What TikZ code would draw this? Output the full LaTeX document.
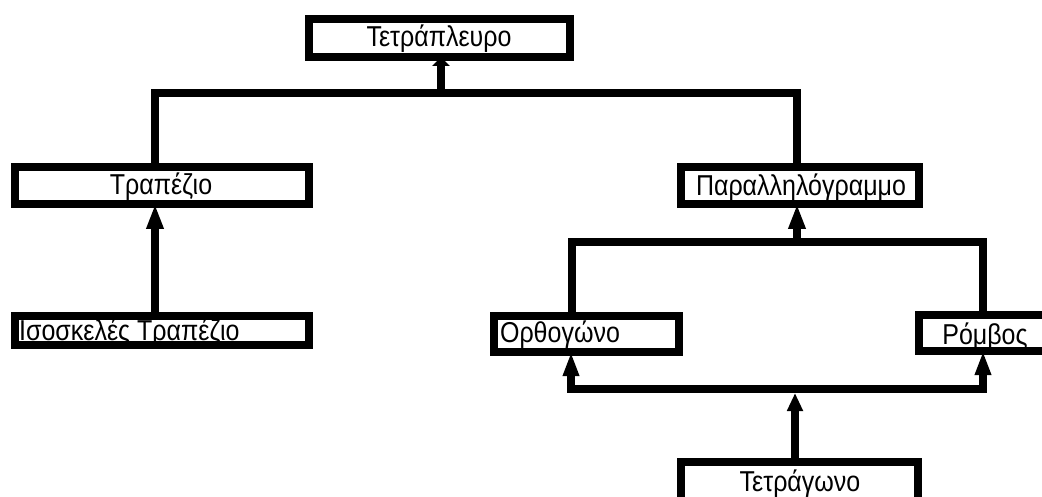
\documentclass[tikz,border=0pt]{standalone}
\usepackage{fontspec}
\setmainfont{Liberation Sans}
\usetikzlibrary{arrows.meta}
% labels are set in a slightly tall, narrow cut of the face
\newcommand{\tallword}[1]{\scalebox{1}[1.15]{#1}}
\begin{document}
\begin{tikzpicture}[x=1pt,y=-1pt,
  box/.style={draw=black,line width=8pt,rectangle,outer sep=0pt,inner sep=0pt},
  lbl/.style={inner sep=0pt,font=\fontsize{25}{27}\selectfont},
  wire/.style={line width=8pt,line join=miter,line cap=rect},
  bigup/.style={line width=8pt,-{Triangle[length=25pt,width=16pt]}},
  smallup/.style={line width=8pt,-{Triangle[length=18pt,width=15pt]}},
  bothup/.style={line width=8pt,line join=miter,{Triangle[length=24pt,width=15pt]}-{Triangle[length=24pt,width=15pt]}},
  topup/.style={line width=8pt,-{Triangle[length=9pt,width=17pt]}}
]
\useasboundingbox (0,0) rectangle (1042,497);

% labels
\node[lbl,anchor=base] (tquad) at (439,47) {\tallword{Τετράπλευρο}};
\node[lbl,anchor=base] (ttrap) at (161,195) {\tallword{Τραπέζιο}};
\node[lbl,anchor=base west] (tiso) at (19,340) {\tallword{Ισοσκελές Τραπέζιο}};
\node[lbl,anchor=base] (tpara) at (801,196) {\tallword{Παραλληλόγραμμο}};
\node[lbl,anchor=base] (trect) at (560,342) {\tallword{Ορθογώνο}};
\node[lbl,anchor=base] (trhom) at (985,344) {\tallword{Ρόμβος}};
\node[lbl,anchor=base] (tsq) at (800,491) {\tallword{Τετράγωνο}};

% boxes
\node[box,minimum width=261pt,minimum height=38pt] (quad) at (439.5,38) {};
\node[box,minimum width=294pt,minimum height=37pt] (trap) at (162,185.5) {};
\node[box,minimum width=294pt,minimum height=29pt] (iso)  at (162,330.5) {};
\node[box,minimum width=238pt,minimum height=37pt] (para) at (800,185.5) {};
\node[box,minimum width=185pt,minimum height=36pt] (rect) at (586.5,334) {};
\node[box,minimum width=133pt,minimum height=36pt] (rhom) at (985.5,333) {};
\node[box,minimum width=237pt,minimum height=39pt] (sq)   at (799.5,481.5) {};

% buses
\coordinate (b1l) at (155,93);
\coordinate (b1r) at (797,93);
\coordinate (b1m) at (441,93);
\coordinate (b2l) at (571.5,242);
\coordinate (b2r) at (983,242);
\coordinate (b2m) at (797,242);
\coordinate (b3l) at (571,389);
\coordinate (b3r) at (983,389);
\coordinate (b3m) at (795,389);

\draw[wire] (b1l |- trap.north) -- (b1l) -- (b1r) -- (b1r |- para.north);
\draw[wire] (b2l |- rect.north) -- (b2l) -- (b2r) -- (b2r |- rhom.north);

% arrows
\draw[topup] (b1m) -- (b1m |- quad.south);
\draw[bigup] (iso.north -| 155,0) -- (trap.south -| 155,0);
\draw[bigup] (b2m) -- (b2m |- para.south);
\draw[bothup] (b3l |- rect.south) -- (b3l) -- (b3r) -- (b3r |- rhom.south);
\draw[smallup] (sq.north -| b3m) -- ([yshift=-4pt]b3m);
\end{tikzpicture}
\end{document}
